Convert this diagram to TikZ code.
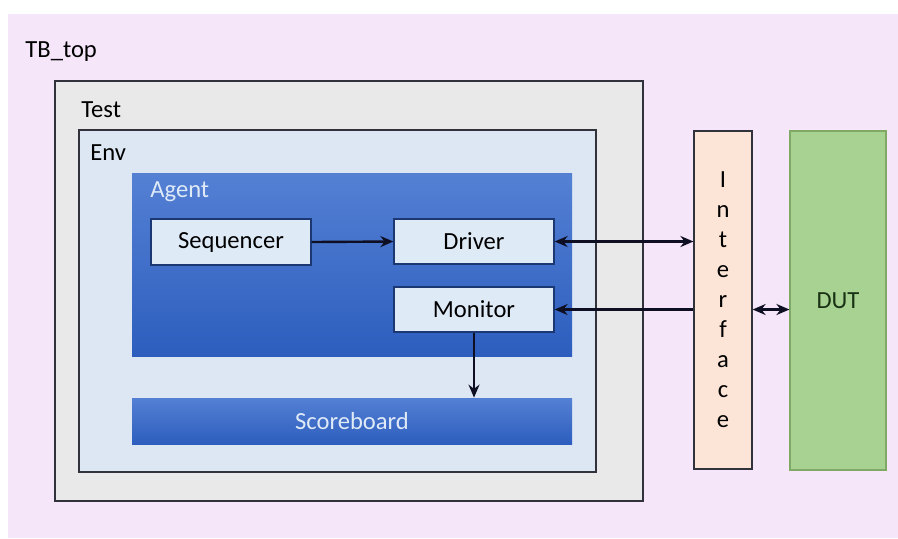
\documentclass[tikz,border=0pt]{standalone}
\usepackage{fontspec}
\setmainfont{Carlito}
\usepackage{tikz}
\usetikzlibrary{positioning,arrows.meta}

\definecolor{rosa}{RGB}{245,230,250}
\definecolor{grigio}{RGB}{234,233,233}
\definecolor{azzurro}{RGB}{221,231,243}
\definecolor{blusu}{RGB}{84,128,212}
\definecolor{blugiu}{RGB}{45,94,190}
\definecolor{chiaro}{RGB}{223,234,247}
\definecolor{pesca}{RGB}{252,229,214}
\definecolor{verde}{RGB}{168,210,145}
\definecolor{verdebordo}{RGB}{128,170,100}
\definecolor{verdescuro}{RGB}{25,50,20}
\definecolor{bordo}{RGB}{50,50,60}
\definecolor{freccia}{RGB}{15,15,35}

\tikzset{
	testo/.style={font=\fontsize{12.3}{15}\selectfont},
	contenitore/.style={draw=bordo, line width=0.6pt, inner sep=0pt},
	blocco/.style={contenitore, fill=chiaro, draw=blugiu!60!black, testo},
	blu/.style={inner sep=0pt, top color=blusu, bottom color=blugiu},
	collega/.style={line width=1.2pt, draw=freccia, -{Stealth[length=6.5pt,width=5.5pt]}},
	doppia/.style={collega, {Stealth[length=6.5pt,width=5.5pt]}-{Stealth[length=6.5pt,width=5.5pt]}}
}

\begin{document}
\begin{tikzpicture}[x=0.5pt, y=-0.5pt]
	\useasboundingbox (0,0) rectangle (898,538);
	\fill[white] (0,0) rectangle (898,538);

	% Contenitori annidati
	\node[inner sep=0pt, fill=rosa, minimum width=445pt, minimum height=262pt] (tbtop) at (453,276) {};
	\node[testo, anchor=west, inner sep=0pt] (tbtoplbl) at (25,52) {TB\_top};

	\node[contenitore, fill=grigio, minimum width=294pt, minimum height=210pt] (test) at (349,291) {};
	\node[testo, anchor=west, inner sep=0pt] (testlbl) at (81,110) {Test};

	\node[contenitore, fill=azzurro, minimum width=258.5pt, minimum height=171pt] (env) at (337.5,301) {};
	\node[testo, anchor=west, inner sep=0pt] (envlbl) at (90,153) {Env};

	\node[blu, minimum width=220pt, minimum height=91.5pt] (agent) at (352,264.5) {};
	\node[testo, anchor=west, inner sep=0pt, text=chiaro] (agentlbl) at (150,192) {Agent};

	% Blocchi dell'agente
	\node[blocco, minimum width=80pt, minimum height=23pt] (seq) at (231,242) {Sequencer};
	\node[blocco, minimum width=80pt, minimum height=22.5pt] (drv) at (474,241.5) {Driver};
	\node[blocco, minimum width=80pt, minimum height=22.5pt] (mon) at (474,309.5) {Monitor};

	\node[blu, testo, text=chiaro, minimum width=220pt, minimum height=23pt] (sb) at (352,421) {Scoreboard};

	% Interfaccia e DUT
	\node[contenitore, fill=pesca, testo, align=center, minimum width=29pt, minimum height=169pt] (intf) at (723,300) {I\\n\\t\\e\\r\\f\\a\\c\\e};
	\node[inner sep=0pt, fill=verde, draw=verdebordo, line width=0.6pt, testo, text=verdescuro, minimum width=48pt, minimum height=169.5pt] (dut) at (838,300.5) {DUT};

	% Collegamenti
	\draw[collega] (seq.east) -- (drv.west);
	\draw[doppia] (drv.east) -- (drv.east -| intf.west);
	\draw[collega] (mon.east -| intf.west) -- (mon.east);
	\draw[doppia] (intf.east |- mon.east) -- (dut.west |- mon.east);
	\draw[collega] (mon.south) -- (mon.south |- sb.north);
\end{tikzpicture}
\end{document}
